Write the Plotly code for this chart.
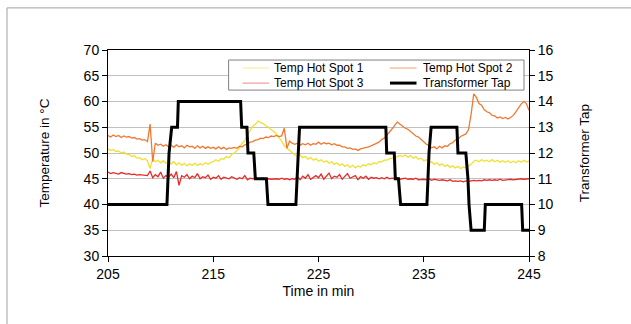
import plotly.graph_objects as go

# sampling grid (minutes)
time_min = [205 + 0.25 * i for i in range(161)]

hot_spot_1 = [
    50.8, 50.5, 50.7, 50.3, 50.4, 50.0, 50.2, 49.8,
    49.7, 49.3, 49.5, 49.0, 49.1, 48.7, 48.9, 48.5,
    47.0, 48.9, 48.3, 48.6, 48.1, 48.5, 48.0, 48.3,
    47.9, 48.3, 47.7, 48.1, 47.6, 48.0, 47.5, 47.9,
    47.6, 48.0, 47.6, 47.9, 47.7, 48.1, 47.8, 48.2,
    48.3, 48.7, 48.4, 48.9, 48.8, 49.3, 49.1, 49.7,
    50.0, 50.6, 51.0, 51.9, 52.4, 53.5, 54.4, 55.2,
    55.6, 56.2, 55.9, 55.7, 55.3, 55.0, 54.5, 54.2,
    53.6, 53.0, 52.3, 51.4, 50.9, 50.4, 49.9, 49.6,
    49.4, 49.6, 49.1, 49.3, 48.8, 49.1, 48.6, 48.9,
    48.4, 48.7, 48.2, 48.5, 48.0, 48.3, 47.8, 48.1,
    47.6, 47.9, 47.4, 47.7, 47.2, 47.6, 47.1, 47.5,
    47.3, 47.7, 47.5, 47.9, 47.7, 48.1, 47.9, 48.3,
    48.3, 48.6, 48.6, 48.9, 49.0, 49.2, 49.3, 49.5,
    49.3, 49.6, 49.2, 49.5, 49.0, 49.3, 48.8, 49.0,
    48.5, 48.7, 48.2, 48.3, 47.8, 48.1, 47.6, 47.9,
    47.4, 47.7, 47.2, 47.5, 47.1, 47.4, 47.0, 47.3,
    47.1, 47.4, 47.8, 48.4, 48.6, 48.3, 48.7, 48.4,
    48.6, 48.3, 48.7, 48.3, 48.6, 48.2, 48.5, 48.2,
    48.5, 48.1, 48.4, 48.1, 48.5, 48.2, 48.6, 48.3,
    48.4,
]

hot_spot_2 = [
    53.4, 53.1, 53.5, 53.2, 53.4, 53.0, 53.3, 53.1,
    53.2, 52.9, 53.0, 52.7, 52.8, 52.5, 52.6, 52.2,
    55.6, 48.3, 51.9, 51.5, 51.7, 51.3, 51.6, 51.2,
    51.5, 51.1, 51.6, 51.2, 51.4, 51.0, 51.5, 51.2,
    51.3, 50.9, 51.4, 51.0, 51.3, 50.9, 51.2, 50.9,
    51.1, 50.8, 51.2, 50.8, 51.1, 50.7, 51.0, 50.9,
    51.1, 50.9, 51.3, 51.2, 51.6, 51.7, 52.1, 52.2,
    52.5, 52.6, 52.9, 52.8, 53.1, 53.0, 53.3, 53.2,
    53.4, 53.2, 53.3, 54.8, 50.9, 52.3, 51.9, 51.7,
    51.9, 51.5, 51.8, 51.6, 51.9, 51.5, 51.8, 51.7,
    52.1, 51.7, 52.0, 51.8, 51.9, 51.6, 51.8, 51.5,
    51.5, 51.2, 51.2, 50.9, 51.0, 50.7, 50.8, 50.5,
    50.8, 50.9, 51.0, 51.2, 51.4, 51.6, 51.9, 52.1,
    52.6, 52.9, 53.5, 54.0, 54.7, 55.4, 56.0, 55.6,
    55.2, 54.8, 54.6, 54.1, 53.8, 53.3, 53.1, 52.6,
    52.2, 51.7, 51.5, 51.0, 51.2, 50.8, 51.3, 51.0,
    51.4, 51.3, 51.8, 52.0, 52.5, 52.7, 53.2, 53.4,
    53.7, 54.5, 57.5, 61.5, 60.8, 59.6, 59.3, 58.4,
    58.0, 57.8, 57.3, 57.2, 56.8, 57.0, 56.7, 56.9,
    56.6, 56.9, 57.3, 58.0, 58.8, 59.5, 60.0, 59.6,
    58.3,
]

hot_spot_3 = [
    46.3, 46.0, 46.2, 46.1, 45.9, 46.2, 46.0, 45.9,
    46.0, 45.8, 45.9, 45.7, 45.8, 45.7, 45.6, 45.6,
    46.5, 45.2, 45.8, 45.4, 46.3, 45.1, 45.6, 45.3,
    45.9, 45.2, 46.4, 43.7, 45.6, 45.3, 45.8, 45.0,
    45.5, 45.2, 46.0, 45.0, 45.4, 45.2, 45.7, 44.9,
    45.3, 45.1, 45.6, 44.9, 45.3, 45.2, 45.0, 45.4,
    45.1, 44.9, 45.2, 45.0, 45.6, 44.8, 45.1, 45.0,
    45.1, 44.9, 45.0, 45.1, 44.9, 45.0, 44.9, 45.0,
    45.0, 44.9, 45.1, 44.9, 45.0, 44.8, 45.0, 44.9,
    45.4, 44.8, 45.5, 45.1, 45.8, 44.9, 45.3, 45.6,
    45.2, 45.9, 44.9, 45.4, 46.1, 45.0, 45.5, 45.3,
    45.8, 44.9, 45.4, 46.0, 45.1, 45.3, 45.6, 44.8,
    45.4, 45.1, 45.5, 44.9, 45.3, 45.1, 45.2, 45.0,
    45.2, 45.0, 45.3, 45.0, 45.1, 45.0, 45.2, 44.9,
    45.0, 45.1, 44.9, 45.0, 44.9, 45.1, 44.8, 44.9,
    44.9, 44.8, 45.0, 44.7, 44.9, 44.8, 44.7, 44.8,
    44.7, 44.6, 44.8, 44.5, 44.6, 44.5, 44.6, 44.4,
    44.6, 44.5, 44.6, 44.7, 44.6, 44.7, 44.6, 44.8,
    44.7, 44.8, 44.7, 44.8, 44.7, 44.9, 44.7, 44.8,
    44.8, 44.9, 44.8, 44.9, 44.9, 45.0, 44.9, 45.0,
    45.0,
]

tap_time = [205, 210.6, 210.8, 211.05, 211.6, 211.68, 217.6, 217.7, 218.2, 218.3,
            218.85, 219.0, 220.05, 220.2, 222.85, 223.0, 223.08, 223.2, 231.4, 231.48,
            232.2, 232.3, 232.6, 232.8, 235.3, 235.4, 235.5, 235.7, 238.15, 238.25,
            239.0, 239.2, 239.3, 239.5, 240.75, 240.85, 244.3, 244.4, 245]
tap_value = [10, 10, 12, 13, 13, 14, 14, 13, 13, 12,
             12, 11, 11, 10, 10, 11, 12, 13, 13, 12,
             12, 11, 11, 10, 10, 11, 12, 13, 13, 12,
             12, 11, 10, 9, 9, 10, 10, 9, 9]

x_ticks = [205, 215, 225, 235, 245]
series_names = ["Temp Hot Spot 1", "Temp Hot Spot 2", "Temp Hot Spot 3", "Transformer Tap"]
series_colors = ["#f2e030", "#f07830", "#e82a28", "black"]
legend_colors = ["#f6ec90", "#f5a070", "#f08880", "black"]
series_widths = [1.3, 1.3, 1.3, 3]

FONT = "Liberation Sans, Arial, sans-serif"

fig = go.Figure()
temps = [hot_spot_1, hot_spot_2, hot_spot_3]
for name, vals, col, w in zip(series_names[:3], temps, series_colors[:3], series_widths[:3]):
    fig.add_trace(go.Scatter(x=time_min, y=vals, mode="lines", name=name,
                             line=dict(color=col, width=w)))
fig.add_trace(go.Scatter(x=tap_time, y=tap_value, mode="lines", name=series_names[3],
                         yaxis="y2", line=dict(color=series_colors[3], width=series_widths[3])))

# manual legend (box, sample lines, labels) in paper coordinates
shapes = [
    dict(type="rect", xref="paper", yref="paper", x0=-0.2399, x1=1.6, y0=-0.6, y1=1.2044,
         line=dict(color="#a0a0a0", width=1), fillcolor="rgba(0,0,0,0)", layer="below"),
    dict(type="rect", xref="paper", yref="paper", x0=0.2865, x1=0.9881, y0=0.8054, y1=0.9513,
         line=dict(color="#808080", width=1), fillcolor="white", layer="above"),
]
annotations = []
leg_cols = [(0.3197, 0.3824, 0.3905), (0.6698, 0.7328, 0.7423)]
leg_rows = [0.9124, 0.8394]
for k, name in enumerate(series_names):
    r, c = divmod(k, 2)
    lx0, lx1, tx = leg_cols[c]
    ly = leg_rows[r]
    shapes.append(dict(type="line", xref="paper", yref="paper", x0=lx0, x1=lx1, y0=ly, y1=ly,
                       line=dict(color=legend_colors[k], width=1 if k < 3 else 3), layer="above"))
    annotations.append(dict(xref="paper", yref="paper", x=tx, y=ly, xanchor="left", yanchor="middle",
                            text=name, showarrow=False, font=dict(size=12, family=FONT, color="black")))

fig.update_layout(
    width=631, height=324,
    margin=dict(l=108, r=102, t=50, b=68),
    paper_bgcolor="white", plot_bgcolor="white",
    font=dict(family=FONT, size=14, color="black"),
    showlegend=False,
    xaxis=dict(
        range=[205, 245], tickvals=x_ticks, ticktext=[str(v) for v in x_ticks],
        showgrid=False, zeroline=False, showline=True, linecolor="black", linewidth=1,
        mirror=True, ticks="outside", ticklen=5, tickcolor="black",
        title=dict(text="Time in min", standoff=5, font=dict(size=14)),
    ),
    yaxis=dict(
        range=[30, 70], dtick=5, showgrid=True, gridcolor="#c0c0c0", gridwidth=1,
        zeroline=False, showline=True, linecolor="black", linewidth=1,
        ticks="outside", ticklen=5, tickcolor="black",
        title=dict(text="Temperature in °C", standoff=30, font=dict(size=13.5)),
    ),
    yaxis2=dict(
        range=[8, 16], dtick=1, overlaying="y", side="right", showgrid=False,
        zeroline=False, showline=True, linecolor="black", linewidth=1,
        ticks="outside", ticklen=5, tickcolor="black",
        title=dict(text="Transformer Tap", standoff=26, font=dict(size=13.5)),
    ),
    shapes=shapes,
    annotations=annotations,
)

fig.write_html("out.html")
